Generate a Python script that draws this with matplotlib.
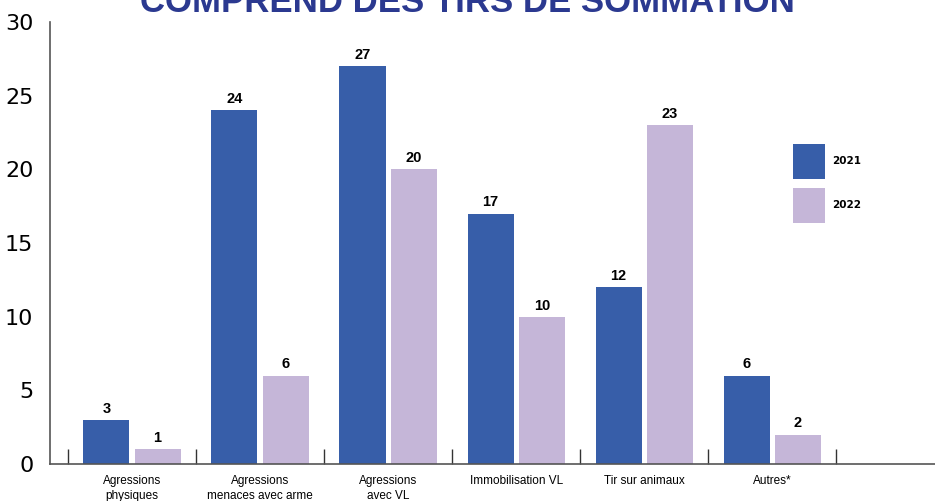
import numpy as np
import matplotlib.pyplot as plt

categories = ['Agressions\nphysiques', 'Agressions\nmenaces avec arme', 'Agressions\navec VL',
              'Immobilisation VL', 'Tir sur animaux', 'Autres*']
values_2021 = [3, 24, 27, 17, 12, 6]
values_2022 = [1, 6, 20, 10, 23, 2]
years = ['2021', '2022']
title = 'COMPREND DES TIRS DE SOMMATION'

blue = '#375EA9'
lilac = '#C5B6D8'
navy = '#2B3990'
narrow = ['Liberation Sans', 'DejaVu Sans']

fig = plt.figure(figsize=(9.35, 5.01), dpi=100)
ax = fig.add_axes([50 / 935, 37 / 501, 885 / 935, 442 / 501])

x = np.arange(len(categories))
w = 0.36
off = 0.2
b1 = ax.bar(x - off, values_2021, w, color=blue, label=years[0])
b2 = ax.bar(x + off, values_2022, w, color=lilac, label=years[1])
for bars in (b1, b2):
    ax.bar_label(bars, padding=3, fontsize=10.5, fontweight='bold', family=narrow)

ax.set_xlim(-0.64, 6.27)
ax.set_ylim(0, 30)
ax.set_yticks(range(0, 31, 5))
ax.tick_params(axis='y', length=0, labelsize=16, pad=12)

# group separators as major ticks, category names on minor ticks
ax.set_xticks(np.arange(len(categories) + 1) - 0.5)
ax.set_xticklabels([])
ax.tick_params(axis='x', which='major', direction='in', length=11, width=1, color='#333333')
ax.set_xticks(x, minor=True)
ax.set_xticklabels(categories, minor=True, fontsize=8.5, family=narrow, linespacing=1.3)
ax.tick_params(axis='x', which='minor', length=0, pad=8)

for s in ['top', 'right']:
    ax.spines[s].set_visible(False)
for s in ['left', 'bottom']:
    ax.spines[s].set_color('#555555')
    ax.spines[s].set_linewidth(1.2)

ax.legend(loc='upper left', bbox_to_anchor=(793 / 935, (501 - 144) / 501),
          bbox_transform=fig.transFigure, frameon=False, borderpad=0, borderaxespad=0,
          handlelength=3.08, handleheight=4.8, labelspacing=0.85, handletextpad=0.67,
          prop=dict(weight='bold', size=7.5))

fig.text(0.5, (501 - 12) / 501, title, ha='center', va='baseline', color=navy,
         fontsize=25, fontweight='bold', family=narrow)

fig.savefig('out.png', dpi=100)
